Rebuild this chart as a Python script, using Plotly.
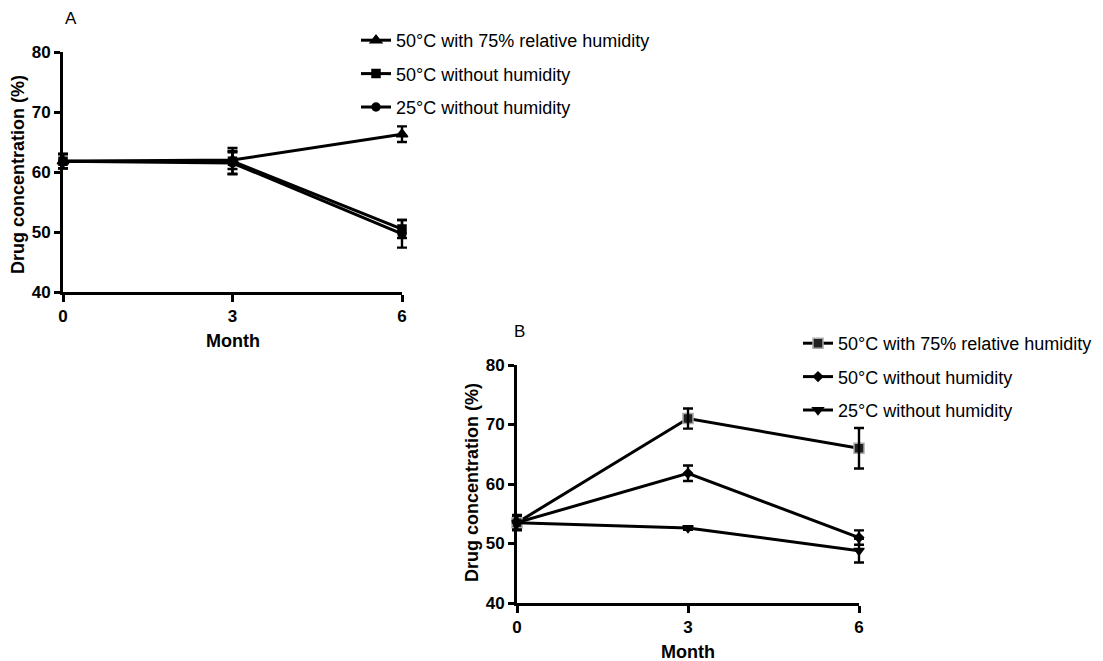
import plotly.graph_objects as go

months = [0, 3, 6]
x_ticks = [0, 3, 6]
y_ticks = [40, 50, 60, 70, 80]

labels = ["50°C with 75% relative humidity", "50°C without humidity", "25°C without humidity"]

# Panel A
a_rh50 = [61.8, 62.0, 66.3]
a_rh50_err = [1.2, 1.5, 1.3]
a_dry50 = [61.8, 61.8, 50.5]
a_dry50_err = [1.2, 2.2, 1.5]
a_dry25 = [61.8, 61.5, 49.7]
a_dry25_err = [1.2, 1.8, 2.3]

# Panel B
b_rh50 = [53.5, 71.0, 66.0]
b_rh50_err = [1.2, 1.7, 3.4]
b_dry50 = [53.5, 61.8, 51.0]
b_dry50_err = [1.2, 1.3, 1.2]
b_dry25 = [53.5, 52.6, 48.8]
b_dry25_err = [1.3, 0.3, 2.0]

W, H = 1103, 661
FONT = "Liberation Sans, Arial, sans-serif"

# panel geometry (pixels)
A_X = (63, 402)
A_Y = (52, 292)
B_X = (517, 859)
B_Y = (365, 603)
PAD = 9  # px of extra room for error-bar caps on overlay axes


def xdom(px):
    return [px[0] / W, px[1] / W]


def ydom(py):
    return [(H - py[1]) / H, (H - py[0]) / H]


def pad_dom(px):
    return [(px[0] - PAD) / W, (px[1] + PAD) / W]


def pad_range(px, lo=0, hi=6):
    u = (hi - lo) * PAD / (px[1] - px[0])
    return [lo - u, hi + u]


fig = go.Figure()


def add(x, y, err, name, symbol, xa, ya, xe, ye, legend, mcolor="black", lcolor="black", size=9):
    fig.add_trace(go.Scatter(
        x=x, y=y, name=name, mode="lines+markers",
        line=dict(color="black", width=3),
        marker=dict(symbol=symbol, size=size, color=mcolor, line=dict(color=lcolor, width=1.5)),
        xaxis=xa, yaxis=ya, legend=legend, legendgroup=legend + name, cliponaxis=False,
    ))
    fig.add_trace(go.Scatter(
        x=x, y=y, mode="markers", marker=dict(size=1, opacity=0), showlegend=False,
        error_y=dict(type="data", array=err, visible=True, color="black", thickness=2.4, width=5),
        xaxis=xe, yaxis=ye, hoverinfo="skip", cliponaxis=False,
    ))


add(months, a_rh50, a_rh50_err, labels[0], "triangle-up", "x", "y", "x3", "y3", "legend", size=10)
add(months, a_dry50, a_dry50_err, labels[1], "square", "x", "y", "x3", "y3", "legend", size=8)
add(months, a_dry25, a_dry25_err, labels[2], "circle", "x", "y", "x3", "y3", "legend", size=8)

add(months, b_rh50, b_rh50_err, labels[0], "square", "x2", "y2", "x4", "y4", "legend2", mcolor="#222", lcolor="#aaa", size=10)
add(months, b_dry50, b_dry50_err, labels[1], "diamond", "x2", "y2", "x4", "y4", "legend2", size=7)
add(months, b_dry25, b_dry25_err, labels[2], "triangle-down", "x2", "y2", "x4", "y4", "legend2", size=9)

tickfont = dict(family=FONT, size=17, color="black", weight="bold")


def xaxis(domain, anchor):
    return dict(domain=domain, anchor=anchor, range=[0, 6], tickvals=x_ticks, ticks="outside",
                ticklen=7, tickwidth=3, tickcolor="black", showline=True, linewidth=3,
                linecolor="black", showgrid=False, zeroline=False, tickfont=tickfont,
                automargin=False)


def yaxis(domain, anchor):
    return dict(domain=domain, anchor=anchor, range=[40, 80], tickvals=y_ticks, ticks="outside",
                ticklen=6, tickwidth=3, tickcolor="black", showline=True, linewidth=3,
                linecolor="black", showgrid=False, zeroline=False, tickfont=tickfont,
                automargin=False)


def hidden(domain, anchor, rng):
    return dict(domain=domain, anchor=anchor, range=rng, visible=False, showgrid=False,
                zeroline=False, automargin=False)


legfont = dict(family=FONT, size=18, color="black")


def ann(text, x, y, size, bold=False, angle=0):
    return dict(text=text, x=x / W, y=(H - y) / H, xref="paper", yref="paper", showarrow=False,
                xanchor="center", yanchor="middle", textangle=angle,
                font=dict(family=FONT, size=size, color="black", weight="bold" if bold else "normal"))


fig.update_layout(
    width=W, height=H,
    margin=dict(l=0, r=0, t=0, b=0),
    paper_bgcolor="white", plot_bgcolor="rgba(0,0,0,0)",
    xaxis=xaxis(xdom(A_X), "y"),
    yaxis=yaxis(ydom(A_Y), "x"),
    xaxis2=xaxis(xdom(B_X), "y2"),
    yaxis2=yaxis(ydom(B_Y), "x2"),
    xaxis3=hidden(pad_dom(A_X), "y3", pad_range(A_X)),
    yaxis3=hidden(ydom(A_Y), "x3", [40, 80]),
    xaxis4=hidden(pad_dom(B_X), "y4", pad_range(B_X)),
    yaxis4=hidden(ydom(B_Y), "x4", [40, 80]),
    legend=dict(x=356 / W, y=(H - 22) / H, xanchor="left", yanchor="top", font=legfont,
                tracegroupgap=7, bgcolor="rgba(0,0,0,0)"),
    legend2=dict(x=798 / W, y=(H - 325) / H, xanchor="left", yanchor="top", font=legfont,
                 tracegroupgap=7, bgcolor="rgba(0,0,0,0)"),
    annotations=[
        ann("A", 71, 19, 17),
        ann("B", 519, 331, 17),
        ann("Drug concentration (%)", 18, 175, 18, bold=True, angle=-90),
        ann("Month", 233, 341, 18, bold=True),
        ann("Drug concentration (%)", 472, 483, 18, bold=True, angle=-90),
        ann("Month", 688, 652, 18, bold=True),
    ],
)

fig.write_html("out.html")
